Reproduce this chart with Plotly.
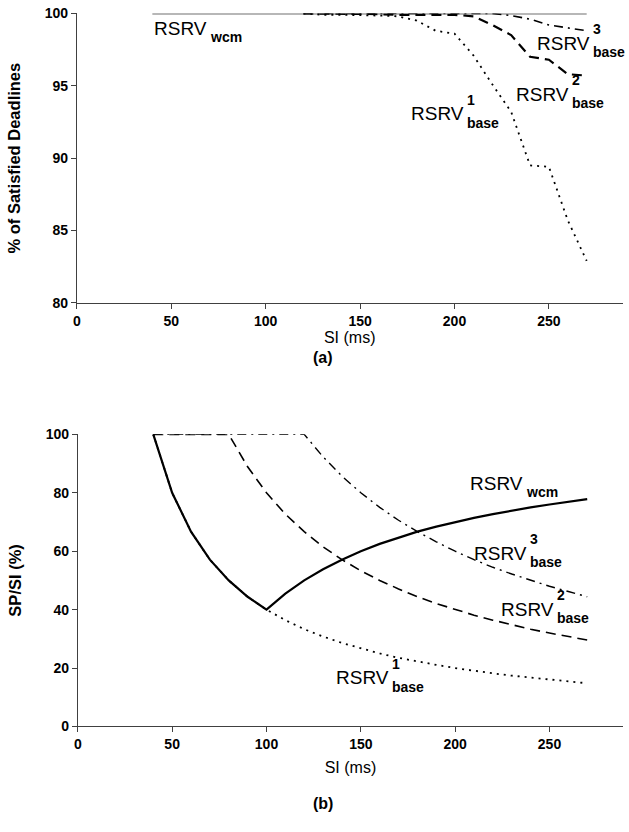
import plotly.graph_objects as go

# ---------------- data ----------------
# (a) % of satisfied deadlines vs SI
si_wcm_a = [40, 270]
wcm_a = [100, 100]
si_base_a = [120, 130, 140, 150, 160, 170, 180, 190, 200, 210, 220, 230, 240, 250, 260, 270]
base1_a = [100, 99.9, 99.9, 99.9, 99.85, 99.8, 99.5, 98.8, 98.6, 97.1, 95.1, 93.2, 89.5, 89.4, 85.7, 82.9]
base2_a = [100, 100, 100, 100, 99.95, 99.9, 99.9, 99.9, 99.9, 99.8, 99.2, 98.5, 97.0, 96.8, 95.8, 95.7]
base3_a = [100, 100, 100, 100, 100, 100, 100, 100, 100, 100, 100, 99.85, 99.6, 99.2, 99.0, 98.8]

# (b) SP/SI (%) vs SI
si_b = [40, 50, 60, 70, 80, 90, 100, 110, 120, 130, 140, 150, 160, 170, 180, 190, 200, 210, 220, 230, 240, 250, 260, 270]
wcm_b = [100, 80, 66.7, 57.1, 50, 44.4, 40, 45.5, 50, 53.8, 57.1, 60, 62.5, 64.7, 66.7, 68.4, 70, 71.4, 72.7, 73.9, 75, 76, 76.9, 77.8]
base1_b = [100, 80, 66.7, 57.1, 50, 44.4, 40, 36.4, 33.3, 30.8, 28.6, 26.7, 25, 23.5, 22.2, 21.1, 20, 19, 18.2, 17.4, 16.7, 16, 15.4, 14.8]
base2_b = [100, 100, 100, 100, 100, 88.9, 80, 72.7, 66.7, 61.5, 57.1, 53.3, 50, 47.1, 44.4, 42.1, 40, 38.1, 36.4, 34.8, 33.3, 32, 30.8, 29.6]
base3_b = [100, 100, 100, 100, 100, 100, 100, 100, 100, 92.3, 85.7, 80, 75, 70.6, 66.7, 63.2, 60, 57.1, 54.5, 52.2, 50, 48, 46.2, 44.4]

x_ticks = [0, 50, 100, 150, 200, 250]
y_ticks_a = [80, 85, 90, 95, 100]
y_ticks_b = [0, 20, 40, 60, 80, 100]

# label anchors: (subscript, superscript, x, y, panel)
labels = [
    ("wcm", "", 69.3, 98.48, "a"),
    ("base", "3", 272.4, 97.44, "a"),
    ("base", "2", 260.9, 93.94, "a"),
    ("base", "1", 205.6, 92.58, "a"),
    ("wcm", "", 236.7, 80.9, "b"),
    ("base", "3", 238.8, 56.9, "b"),
    ("base", "2", 253.0, 37.8, "b"),
    ("base", "1", 165.6, 14.3, "b"),
]

FONT = "Liberation Sans"
AXC = "#404040"

fig = go.Figure()

def line(x, y, ax, color, width, dash):
    xa, ya = ("x", "y") if ax == "a" else ("x2", "y2")
    fig.add_trace(go.Scatter(x=x, y=y, mode="lines", xaxis=xa, yaxis=ya,
                             line=dict(color=color, width=width, dash=dash),
                             showlegend=False, hoverinfo="skip"))

# (a)
line(si_wcm_a, wcm_a, "a", "#707070", 2, "solid")
line(si_base_a, base3_a, "a", "black", 1.6, "9px,5px,2px,5px")
line(si_base_a, base2_a, "a", "black", 2.2, "10px,6px")
line(si_base_a, base1_a, "a", "black", 1.8, "2px,5px")
# (b)
line(si_b, base3_b, "b", "black", 1.4, "9px,5px,2px,5px")
line(si_b, base2_b, "b", "black", 1.6, "10px,6px")
line(si_b, base1_b, "b", "black", 1.8, "2px,5px")
line(si_b, wcm_b, "b", "black", 2.2, "solid")

tickfont = dict(family=FONT, size=14, color="black", weight="bold")
common_axis = dict(showline=True, linecolor=AXC, linewidth=1, ticks="outside",
                   ticklen=5, tickcolor=AXC, showgrid=False, zeroline=False,
                   tickfont=tickfont)

fig.update_layout(
    width=629, height=832,
    margin=dict(l=0, r=0, t=0, b=0),
    paper_bgcolor="white", plot_bgcolor="white",
    xaxis=dict(domain=[0.1165, 0.9897], range=[0, 289], tickvals=x_ticks,
               anchor="y", title=dict(text="SI (ms)", font=dict(family=FONT, size=16, color="black"), standoff=0),
               **common_axis),
    yaxis=dict(domain=[0.6386, 0.9934], range=[80, 100], tickvals=y_ticks_a,
               anchor="x", title=dict(text="% of Satisfied Deadlines",
                                      font=dict(family=FONT, size=16.5, color="black", weight="bold"), standoff=19),
               **common_axis),
    xaxis2=dict(domain=[0.1181, 0.9905], range=[0, 289], tickvals=x_ticks,
                anchor="y2", title=dict(text="SI (ms)", font=dict(family=FONT, size=16, color="black"), standoff=10),
                **common_axis),
    yaxis2=dict(domain=[0.1195, 0.4775], range=[0, 100], tickvals=y_ticks_b,
                anchor="x2", title=dict(text="SP/SI (%)",
                                        font=dict(family=FONT, size=16.5, color="black", weight="bold"), standoff=19),
                **common_axis),
)

for sub, sup, lx, ly, ax in labels:
    xr, yr = ("x", "y") if ax == "a" else ("x2", "y2")
    fig.add_annotation(x=lx, y=ly, xref=xr, yref=yr, text="RSRV", showarrow=False,
                       xanchor="right", yanchor="middle", yshift=7, borderpad=0,
                       font=dict(family=FONT, size=19, color="black"))
    fig.add_annotation(x=lx, y=ly, xref=xr, yref=yr, text=sub, showarrow=False,
                       xanchor="left", yanchor="middle", yshift=-2, xshift=1, borderpad=0,
                       font=dict(family=FONT, size=14, color="black", weight="bold"))
    if sup:
        fig.add_annotation(x=lx, y=ly, xref=xr, yref=yr, text=sup, showarrow=False,
                           xanchor="left", yanchor="middle", yshift=21, xshift=1, borderpad=0,
                           font=dict(family=FONT, size=14, color="black", weight="bold"))

fig.add_annotation(x=0.51, y=1 - 356 / 832, xref="paper", yref="paper", text="(a)",
                   showarrow=False, font=dict(family=FONT, size=16, color="black", weight="bold"))
fig.add_annotation(x=0.51, y=1 - 822 / 832, xref="paper", yref="paper", text="(b)",
                   showarrow=False, font=dict(family=FONT, size=16, color="black", weight="bold"))

fig.write_html("out.html", config={"displayModeBar": False},
               post_script="document.body.style.margin='0';document.body.style.overflow='hidden';")
